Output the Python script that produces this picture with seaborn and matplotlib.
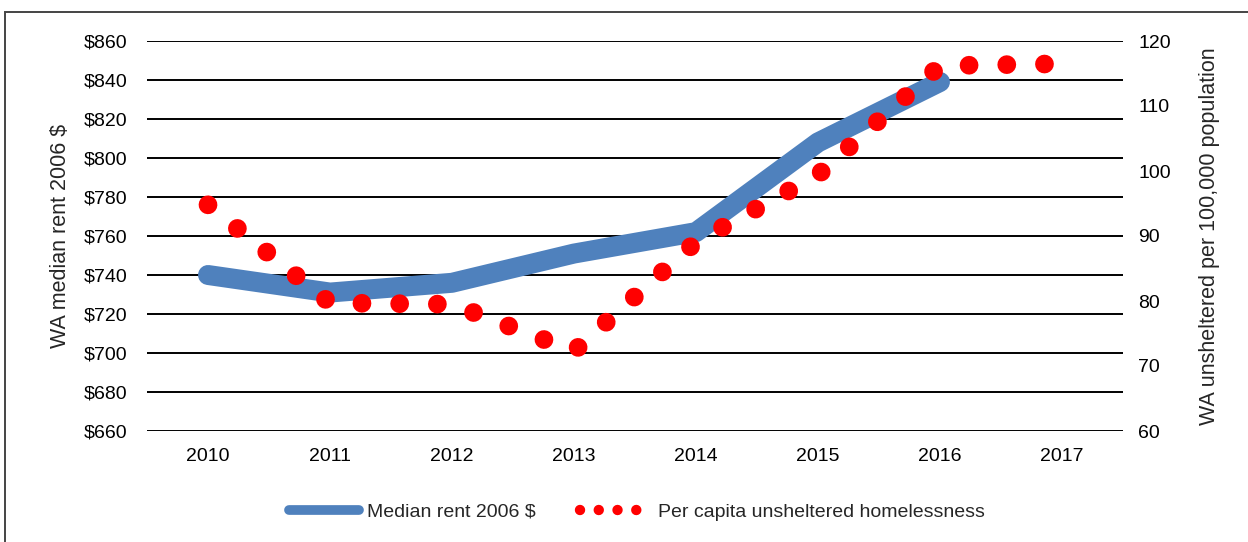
import matplotlib
matplotlib.use('Agg')
import matplotlib.pyplot as plt
import seaborn as sns
import pandas as pd
from matplotlib.lines import Line2D
from matplotlib.patches import Rectangle

# Values
years_rent = [2010, 2011, 2012, 2013, 2014, 2015, 2016]
median_rent = [740, 731, 736, 751, 762, 808, 839]

years_home = [2010, 2011, 2012, 2013, 2014, 2015, 2016, 2017]
unsheltered = [94.8, 79.7, 79.5, 72.3, 89.1, 99.4, 116.2, 116.5]

year_labels = ['2010', '2011', '2012', '2013', '2014', '2015', '2016', '2017']
rent_ticks = list(range(660, 861, 20))
home_ticks = list(range(60, 121, 10))

rent_df = pd.DataFrame({'year': years_rent, 'rent': median_rent})
home_df = pd.DataFrame({'year': years_home, 'rate': unsheltered})

sns.set_style('white')
plt.rcParams['font.family'] = ['Liberation Sans', 'DejaVu Sans']

blue = '#4F81BD'
red = '#FF0000'
dot_style = (0, (0.001, 2.01))

fig = plt.figure(figsize=(12.48, 5.42), dpi=100)
ax = fig.add_axes([147 / 1248, 1 - 431 / 542, 976 / 1248, 390 / 542])
ax2 = ax.twinx()

# rent line (left axis)
sns.lineplot(data=rent_df, x='year', y='rent', ax=ax, color=blue,
             linewidth=14.4, solid_capstyle='round', solid_joinstyle='round')

# homelessness rate as a thick round-dotted line (right axis)
sns.lineplot(data=home_df, x='year', y='rate', ax=ax2, color=red,
             linewidth=13.5, linestyle=dot_style, dash_capstyle='round')

ax.set_xlim(2009.5, 2017.5)
ax.set_ylim(660, 860)
ax.set_yticks(rent_ticks)
ax.set_yticklabels([f'${v}' for v in rent_ticks])
ax.set_xticks(years_home)
ax.set_xticklabels(year_labels)
ax2.set_ylim(60, 120)
ax2.set_yticks(home_ticks)

ax.grid(axis='y', color='black', linewidth=1.4)
ax.grid(axis='x', visible=False)
ax2.grid(False)
ax.set_axisbelow(True)

for a in (ax, ax2):
    for s in a.spines.values():
        s.set_visible(False)
    a.tick_params(length=0, labelsize=14, colors='black')
ax.tick_params(axis='y', pad=14)
ax.tick_params(axis='x', pad=12)
ax2.tick_params(axis='y', pad=11)

ax.set_xlabel('')
ax.set_ylabel('WA median rent 2006 $', fontsize=15.5, labelpad=9)
ax2.set_ylabel('WA unsheltered per 100,000 population', fontsize=15.5, labelpad=20)

handles = [
    Line2D([], [], color=blue, linewidth=7, solid_capstyle='round'),
    Line2D([], [], color=red, linewidth=7.5, linestyle=(0, (0.001, 1.8)), dash_capstyle='round'),
]
fig.legend(handles, ['Median rent 2006 $', 'Per capita unsheltered homelessness'],
           loc='center', bbox_to_anchor=(637 / 1248, 1 - 512 / 542), ncol=2,
           frameon=False, fontsize=14, handlelength=3.6, handletextpad=0.4,
           columnspacing=2.3)

# outer frame of the chart
fig.add_artist(Rectangle((5 / 1248, -0.05), 1.2, 1.05 - 12 / 542, transform=fig.transFigure,
                         fill=False, edgecolor='#444444', linewidth=1.4))

fig.savefig('out.png', dpi=100)
